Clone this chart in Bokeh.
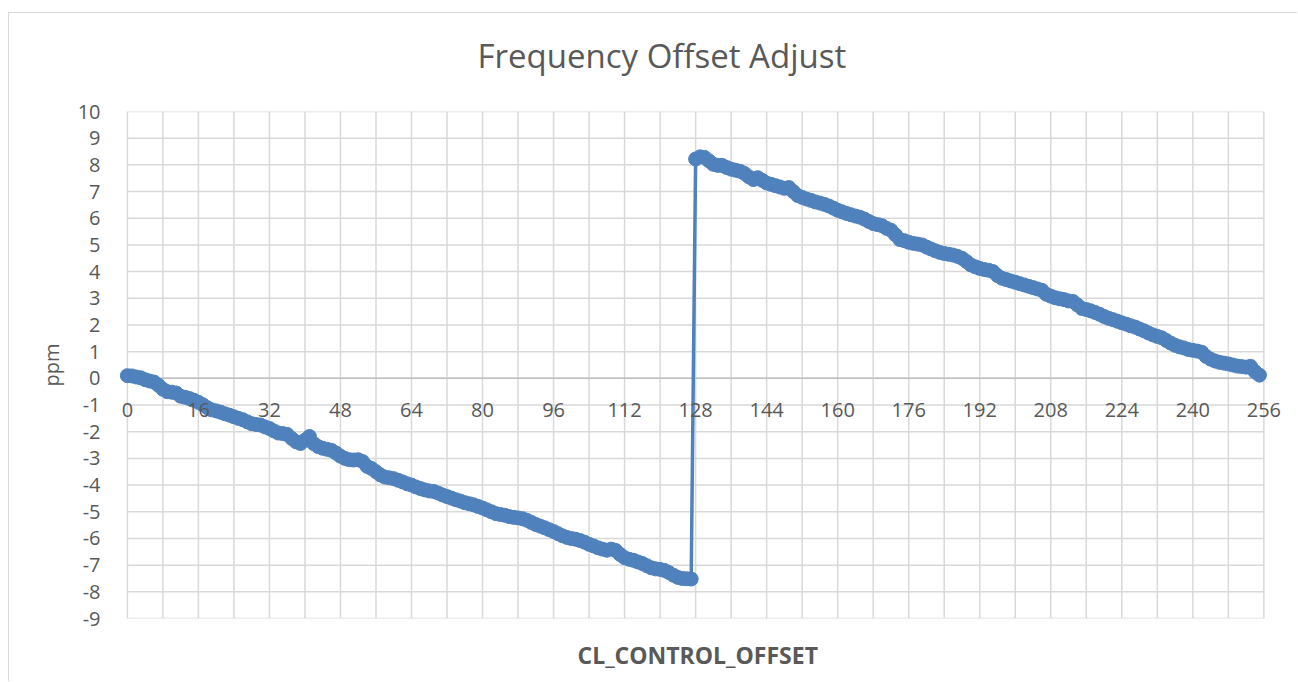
from bokeh.plotting import figure
from bokeh.models import FixedTicker, Range1d, ColumnDataSource, Label, Title
from bokeh.embed import file_html
from bokeh.resources import INLINE

# ---- data ----
offset_codes = list(range(256))
ppm_values = [
    0.10, 0.09, 0.05, 0.02, -0.05, -0.10, -0.14, -0.26, -0.41, -0.50,
    -0.52, -0.55, -0.67, -0.71, -0.76, -0.82, -0.90, -0.99, -1.10, -1.18,
    -1.22, -1.27, -1.33, -1.38, -1.44, -1.50, -1.55, -1.63, -1.70, -1.73,
    -1.75, -1.82, -1.88, -1.97, -2.05, -2.07, -2.10, -2.25, -2.38, -2.44,
    -2.32, -2.18, -2.45, -2.56, -2.62, -2.66, -2.70, -2.80, -2.92, -3.00,
    -3.05, -3.06, -3.05, -3.12, -3.30, -3.38, -3.50, -3.62, -3.70, -3.73,
    -3.76, -3.82, -3.88, -3.95, -4.00, -4.07, -4.13, -4.18, -4.22, -4.24,
    -4.30, -4.37, -4.43, -4.49, -4.55, -4.60, -4.66, -4.70, -4.74, -4.80,
    -4.86, -4.93, -5.00, -5.07, -5.10, -5.13, -5.18, -5.21, -5.23, -5.26,
    -5.32, -5.40, -5.48, -5.54, -5.60, -5.67, -5.74, -5.82, -5.90, -5.96,
    -6.00, -6.03, -6.08, -6.14, -6.22, -6.28, -6.35, -6.40, -6.44, -6.40,
    -6.45, -6.60, -6.72, -6.78, -6.82, -6.88, -6.94, -7.02, -7.10, -7.14,
    -7.16, -7.20, -7.28, -7.38, -7.46, -7.50, -7.51, -7.52,
    8.22, 8.30, 8.28, 8.15, 8.02, 7.98, 7.98, 7.90, 7.84, 7.80,
    7.76, 7.68, 7.55, 7.45, 7.52, 7.42, 7.32, 7.27, 7.22, 7.17,
    7.12, 7.15, 7.00, 6.85, 6.78, 6.72, 6.67, 6.61, 6.57, 6.52,
    6.46, 6.38, 6.30, 6.24, 6.18, 6.13, 6.08, 6.04, 5.97, 5.88,
    5.80, 5.76, 5.72, 5.62, 5.55, 5.38, 5.20, 5.16, 5.10, 5.06,
    5.03, 5.00, 4.92, 4.85, 4.78, 4.72, 4.68, 4.65, 4.62, 4.57,
    4.50, 4.38, 4.25, 4.18, 4.12, 4.08, 4.05, 4.00, 3.85, 3.75,
    3.70, 3.65, 3.60, 3.55, 3.50, 3.45, 3.40, 3.35, 3.30, 3.15,
    3.08, 3.02, 2.98, 2.95, 2.90, 2.88, 2.75, 2.62, 2.58, 2.53,
    2.47, 2.40, 2.32, 2.25, 2.20, 2.14, 2.08, 2.03, 1.97, 1.92,
    1.85, 1.78, 1.70, 1.63, 1.57, 1.52, 1.42, 1.32, 1.24, 1.18,
    1.14, 1.08, 1.05, 1.02, 0.98, 0.82, 0.72, 0.65, 0.60, 0.57,
    0.54, 0.50, 0.46, 0.44, 0.42, 0.45, 0.25, 0.12,
]
x_ticks = [0, 16, 32, 48, 64, 80, 96, 112, 128, 144, 160, 176, 192, 208, 224, 240, 256]
x_tick_labels = ["0", "16", "32", "48", "64", "80", "96", "112", "128", "144",
                 "160", "176", "192", "208", "224", "240", "256"]
x_grid = [0, 8, 16, 24, 32, 40, 48, 56, 64, 72, 80, 88, 96, 104, 112, 120, 128,
          136, 144, 152, 160, 168, 176, 184, 192, 200, 208, 216, 224, 232, 240, 248, 256]
y_ticks = [-9, -8, -7, -6, -5, -4, -3, -2, -1, 0, 1, 2, 3, 4, 5, 6, 7, 8, 9, 10]
y_tick_labels = ["-9", "-8", "-7", "-6", "-5", "-4", "-3", "-2", "-1", "0",
                 "1", "2", "3", "4", "5", "6", "7", "8", "9", "10"]
title_text = "Frequency Offset Adjust"
x_title = "CL_CONTROL_OFFSET"
y_title = "ppm"

FONT = "Open Sans"
TXT = "#595959"
GRID = "#d9d9d9"
BLUE = "#4F81BD"
X_MIN, X_MAX, Y_MIN, Y_MAX = 0, 256, -9, 10
X_PAD_L, X_PAD_R = 2, 6   # extra room so the end tick labels are not clipped

p = figure(
    title=None,
    frame_width=1172, frame_height=507,
    x_range=Range1d(X_MIN - X_PAD_L, X_MAX + X_PAD_R), y_range=Range1d(Y_MIN, Y_MAX),
    output_backend="svg", toolbar_location=None,
    min_border_left=109, min_border_right=7,
    min_border_top=98, min_border_bottom=63,
    background_fill_color="white", border_fill_color="white",
)
p.margin = (12, 0, 0, 8)
p.styles = {"border-left": "1px solid #d9d9d9", "border-top": "1px solid #d9d9d9"}
p.outline_line_color = None
p.xgrid.visible = False
p.ygrid.visible = False
p.xaxis.visible = False

# plot-area grid (limited to the data area)
p.segment(x0=x_grid, y0=[Y_MIN] * len(x_grid), x1=x_grid, y1=[Y_MAX] * len(x_grid),
          line_color=GRID, line_width=1.5)
p.segment(x0=[X_MIN] * len(y_ticks), y0=y_ticks, x1=[X_MAX] * len(y_ticks), y1=y_ticks,
          line_color=GRID, line_width=1.5)
# horizontal axis line at y = 0
p.segment(x0=[X_MIN], y0=[0], x1=[X_MAX], y1=[0], line_color="#bfbfbf", line_width=1.5)

# data
src = ColumnDataSource(dict(x=offset_codes, y=ppm_values))
p.line("x", "y", source=src, line_color=BLUE, line_width=3.5)
p.scatter("x", "y", source=src, size=14, fill_color=BLUE, line_color=BLUE)

# horizontal-axis tick labels just under the y = 0 line
for t, s in zip(x_ticks, x_tick_labels):
    p.add_layout(Label(x=t, y=0, y_offset=-32, text=s, text_align="center",
                       text_baseline="middle", text_font=FONT, text_font_size="20px",
                       text_color=TXT))

# y axis
ya = p.yaxis[0]
ya.ticker = FixedTicker(ticks=y_ticks)
ya.major_label_overrides = {t: s for t, s in zip(y_ticks, y_tick_labels)}
ya.axis_line_color = None
ya.major_tick_line_color = None
ya.minor_tick_line_color = None
ya.major_label_text_font = FONT
ya.major_label_text_font_size = "20px"
ya.major_label_text_color = TXT
ya.major_label_standoff = 12
ya.axis_label = y_title
ya.axis_label_text_font = FONT
ya.axis_label_text_font_size = "20px"
ya.axis_label_text_font_style = "normal"
ya.axis_label_text_color = TXT
ya.axis_label_standoff = 10

# titles (spacers put them at the right distance from the plot area)
top_spacer = Title(text=" ", text_font_size="1px", standoff=31)
main_title = Title(text=title_text, align="left", offset=359, standoff=0,
                   text_font=FONT, text_font_size="33px", text_font_style="normal",
                   text_color=TXT)
bottom_spacer = Title(text=" ", text_font_size="1px", standoff=15)
x_axis_title = Title(text=x_title, align="left", offset=459, standoff=0,
                     text_font=FONT, text_font_size="23px", text_font_style="bold",
                     text_color=TXT)
p.add_layout(top_spacer, "above")
p.add_layout(main_title, "above")
p.add_layout(bottom_spacer, "below")
p.add_layout(x_axis_title, "below")

open("out.html", "w").write(file_html(p, INLINE))
